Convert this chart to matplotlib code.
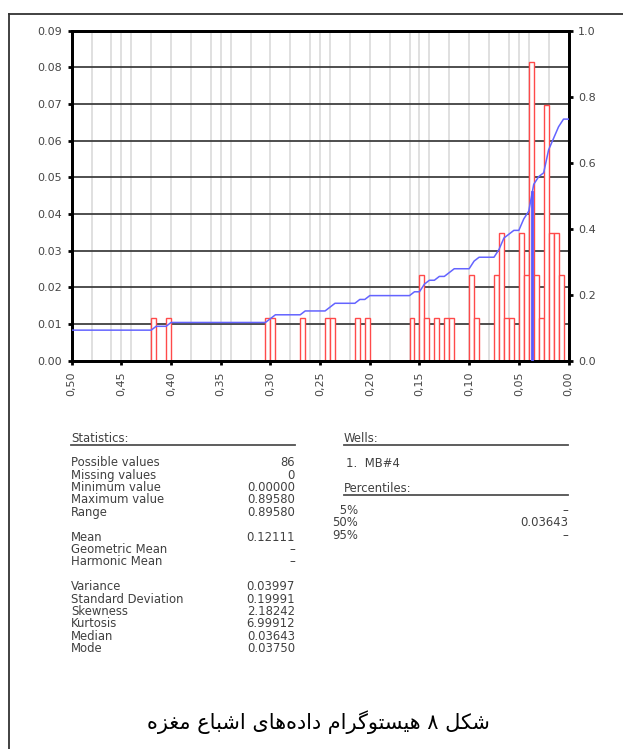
import numpy as np
import matplotlib
matplotlib.use("Agg")
import matplotlib.pyplot as plt
from matplotlib.lines import Line2D

# ---------------- data ----------------
n_total = 86
bin_width = 0.005
bin_lo = [0.415, 0.400, 0.300, 0.295, 0.265, 0.240, 0.235, 0.210, 0.200,
          0.155, 0.145, 0.140, 0.130, 0.120, 0.115, 0.095, 0.090,
          0.070, 0.065, 0.060, 0.055, 0.045, 0.040, 0.035, 0.030,
          0.025, 0.020, 0.015, 0.010, 0.005]
counts = [1, 1, 1, 1, 1, 1, 1, 1, 1,
          1, 2, 1, 1, 1, 1, 2, 1,
          2, 3, 1, 1, 3, 2, 7, 2,
          1, 6, 3, 3, 2]
cum_start = 0.0926          # cumulative fraction above 0.50
median_value = 0.03643

left_ticks = [0.00, 0.01, 0.02, 0.03, 0.04, 0.05, 0.06, 0.07, 0.08, 0.09]
right_ticks = [0.0, 0.2, 0.4, 0.6, 0.8, 1.0]
x_ticks = [0.50, 0.45, 0.40, 0.35, 0.30, 0.25, 0.20, 0.15, 0.10, 0.05, 0.00]

stat_labels = ["Possible values", "Missing values", "Minimum value", "Maximum value", "Range",
               None, "Mean", "Geometric Mean", "Harmonic Mean",
               None, "Variance", "Standard Deviation", "Skewness", "Kurtosis", "Median", "Mode"]
stat_values = ["86", "0", "0.00000", "0.89580", "0.89580",
               None, "0.12111", "\u2013", "\u2013",
               None, "0.03997", "0.19991", "2.18242", "6.99912", "0.03643", "0.03750"]
wells = ["1.  MB#4"]
pct_labels = [" 5%", "50%", "95%"]
pct_values = ["\u2013", "0.03643", "\u2013"]
caption = "شکل ۸ هیستوگرام داده\u200cهای اشباع مغزه"

# ---------------- Arabic/Persian shaping ----------------
FORMS = {
    '\u0634': ('\uFEB5', '\uFEB6', '\uFEB7', '\uFEB8'),
    '\u06A9': ('\uFB8E', '\uFB8F', '\uFB90', '\uFB91'),
    '\u0644': ('\uFEDD', '\uFEDE', '\uFEDF', '\uFEE0'),
    '\u0647': ('\uFEE9', '\uFEEA', '\uFEEB', '\uFEEC'),
    '\u06CC': ('\uFBFC', '\uFBFD', '\uFBFE', '\uFBFF'),
    '\u0633': ('\uFEB1', '\uFEB2', '\uFEB3', '\uFEB4'),
    '\u062A': ('\uFE95', '\uFE96', '\uFE97', '\uFE98'),
    '\u06AF': ('\uFB92', '\uFB93', '\uFB94', '\uFB95'),
    '\u0645': ('\uFEE1', '\uFEE2', '\uFEE3', '\uFEE4'),
    '\u0628': ('\uFE8F', '\uFE90', '\uFE91', '\uFE92'),
    '\u0639': ('\uFEC9', '\uFECA', '\uFECB', '\uFECC'),
    '\u063A': ('\uFECD', '\uFECE', '\uFECF', '\uFED0'),
    '\u0627': ('\uFE8D', '\uFE8E'),
    '\u062F': ('\uFEA9', '\uFEAA'),
    '\u0631': ('\uFEAD', '\uFEAE'),
    '\u0648': ('\uFEED', '\uFEEE'),
    '\u0632': ('\uFEAF', '\uFEB0'),
}


def shape_rtl(text):
    chars = list(text)
    out = []

    def dual(c):
        return c in FORMS and len(FORMS[c]) == 4

    for i, c in enumerate(chars):
        if c not in FORMS:
            if c != '\u200c':
                out.append(c)
            continue
        prev = chars[i - 1] if i > 0 else None
        nxt = chars[i + 1] if i + 1 < len(chars) else None
        jp = prev is not None and dual(prev)
        jn = dual(c) and nxt is not None and nxt in FORMS
        f = FORMS[c]
        if jp and jn:
            g = f[3]
        elif jp:
            g = f[1]
        elif jn:
            g = f[2]
        else:
            g = f[0]
        out.append(g)
    return ''.join(reversed(out))


# ---------------- figure ----------------
W, H = 623, 749
fig = plt.figure(figsize=(W / 100, H / 100), dpi=100)
fig.patch.set_facecolor("white")

ax = fig.add_axes([71.7 / W, 1 - 360.7 / H, (568.5 - 71.7) / W, 330 / H])
ax.set_xlim(0.5, 0.0)
ax.set_ylim(0, 0.09)

# grid lines
vgrid = sorted(set([round(v, 3) for v in np.arange(0, 0.5001, 0.02)] +
                   [round(v, 3) for v in x_ticks]))
for v in vgrid:
    ax.axvline(v, color="#dadada", lw=1.2, zorder=0)
for t in left_ticks[1:-1]:
    ax.axhline(t, color="#404040", lw=1.3, zorder=0.5)

# histogram bars
heights = [c / n_total for c in counts]
ax.bar(bin_lo, heights, width=bin_width, align="edge", facecolor="white",
       edgecolor="#ff4a4a", linewidth=1.0, zorder=2)

ax.set_yticks(left_ticks)
ax.set_yticklabels(["%.2f" % t for t in left_ticks])
ax.set_xticks(x_ticks)
ax.set_xticklabels([("%.2f" % t).replace(".", ",") for t in x_ticks], rotation=90)

for sp in ax.spines.values():
    sp.set_linewidth(2.0)
    sp.set_color("black")
ax.tick_params(axis="both", direction="out", length=3, width=2, color="black",
               labelsize=8, labelcolor="#454545", pad=4)
ax.tick_params(axis="x", pad=5)

# cumulative curve (right axis)
ax2 = ax.twinx()
ax2.set_ylim(0, 1.0)
ax2.set_yticks(right_ticks)
ax2.set_yticklabels(["%.1f" % t for t in right_ticks])
ax2.tick_params(axis="y", direction="out", length=3, width=2, color="black",
                labelsize=8, labelcolor="#454545", pad=4)
for sp in ax2.spines.values():
    sp.set_linewidth(2.0)
    sp.set_color("black")

edges = np.round(np.arange(0.5, -0.0001, -bin_width), 4)
cnt_map = {round(lo, 4): c for lo, c in zip(bin_lo, counts)}
cum = [cum_start]
for e in edges[1:]:
    cum.append(cum[-1] + cnt_map.get(round(e, 4), 0) / n_total)
ax2.plot(edges, cum, color="#6464ff", lw=1.1, zorder=3)
med_top = np.interp(median_value, edges[::-1], np.array(cum)[::-1])
ax2.plot([median_value, median_value], [0, med_top], color="#5a5aff", lw=2.0, zorder=3)

# ---------------- statistics text ----------------
tc = "#404040"
fs = 8.4


def fx(x):
    return x / W


def fy(y):
    return 1 - y / H


fig.text(fx(71), fy(439), "Statistics:", fontsize=fs, color=tc, va="center", ha="left")
fig.add_artist(Line2D([fx(71), fx(295)], [fy(444.5), fy(444.5)], color="#505050", lw=1.3))
y = 462.7
for lab, val in zip(stat_labels, stat_values):
    if lab is None:
        y += 12.4
        continue
    fig.text(fx(71), fy(y), lab, fontsize=fs, color=tc, va="center", ha="left")
    fig.text(fx(295), fy(y), val, fontsize=fs, color=tc, va="center", ha="right")
    y += 12.4

fig.text(fx(344), fy(438.5), "Wells:", fontsize=fs, color=tc, va="center", ha="left")
fig.add_artist(Line2D([fx(344), fx(568)], [fy(444.5), fy(444.5)], color="#505050", lw=1.3))
fig.text(fx(346), fy(463.3), wells[0], fontsize=fs, color=tc, va="center", ha="left")
fig.text(fx(344), fy(488.3), "Percentiles:", fontsize=fs, color=tc, va="center", ha="left")
fig.add_artist(Line2D([fx(344), fx(568)], [fy(494.5), fy(494.5)], color="#505050", lw=1.3))
y = 510.5
for lab, val in zip(pct_labels, pct_values):
    fig.text(fx(358), fy(y), lab, fontsize=fs, color=tc, va="center", ha="right")
    fig.text(fx(568), fy(y), val, fontsize=fs, color=tc, va="center", ha="right")
    y += 12.4

# ---------------- frame and caption ----------------
fig.add_artist(Line2D([fx(8.7), fx(8.7)], [fy(14), fy(749)], color="#333333", lw=1.3))
fig.add_artist(Line2D([fx(8.7), fx(623)], [fy(14), fy(14)], color="#333333", lw=1.3))

fig.text(fx(318), fy(722), shape_rtl(caption), fontsize=15, color="black",
         ha="center", va="center", family=["DejaVu Sans"])

fig.savefig("out.png", dpi=100, facecolor="white")
